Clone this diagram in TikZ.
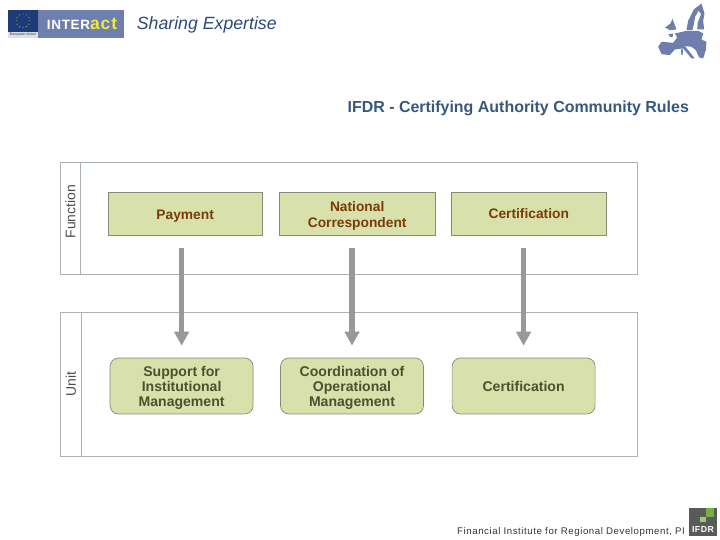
\documentclass[tikz,border=0pt]{standalone}
\usepackage{fontspec}
\setmainfont{Liberation Sans}
\newfontfamily\footfont[LetterSpace=6]{Liberation Sans}
\newfontfamily\logofont[LetterSpace=5]{Liberation Sans}
\usepackage{tikz}
\usetikzlibrary{arrows.meta,positioning,calc}
\definecolor{ifdrframe}{HTML}{ABB2B6}
\definecolor{ifdrfill}{HTML}{D8E1AB}
\definecolor{ifdredge}{HTML}{858B78}
\definecolor{ifdrbrown}{HTML}{7A3B06}
\definecolor{ifdrolive}{HTML}{49512F}
\definecolor{ifdrtitle}{HTML}{36587E}
\definecolor{ifdrarrow}{HTML}{999999}
\definecolor{logoblue}{HTML}{6E7FAE}
\definecolor{logonavy}{HTML}{1D3B78}
\definecolor{logoink}{HTML}{2A4A78}
\definecolor{logoyellow}{HTML}{F2E83C}
\definecolor{logogray}{HTML}{5A5A58}
\definecolor{logogreen}{HTML}{76B043}
\newcommand{\lift}{\rule{0pt}{10pt}}

\begin{document}
\begin{tikzpicture}[
  every node/.style={font=\small},
  func/.style={draw=ifdredge, fill=ifdrfill, line width=0.5pt, inner sep=0pt,
               minimum height=1.075cm, align=center, text=ifdrbrown,
               font=\fontsize{9.8}{11.2}\selectfont\bfseries},
  unit/.style={draw=ifdredge, fill=ifdrfill, rounded corners=6pt, line width=0.5pt,
               inner sep=0pt, minimum width=3.575cm, minimum height=1.4cm,
               align=center, text=ifdrolive,
               font=\fontsize{10}{10.7}\selectfont\bfseries},
  lane/.style={draw=ifdrframe, line width=0.6pt},
  lanelabel/.style={rotate=90, text=black!70, font=\fontsize{9.9}{11}\selectfont},
  flow/.style={draw=ifdrarrow, line width=3.6pt, shorten <=0.3cm, shorten >=0.3cm,
               -{Triangle[length=0.35cm,width=0.36cm]}}
]
\useasboundingbox (0,0) rectangle (18,13.5);

%% Logo strip
\fill[logoblue] (0.95,12.55) rectangle (3.1,13.25);
\fill[logonavy] (0.2,12.7) rectangle (0.95,13.25);
\fill[black!12] (0.2,12.55) rectangle (0.95,12.7);
\foreach \a in {0,30,...,330}
  \fill[logoyellow] ($(0.575,12.98)+(\a:0.17)$) circle (0.012);
\node[font=\fontsize{2.6}{3}\selectfont, text=logonavy] (union) at (0.575,12.625) {European Union};
\node[font=\fontsize{9.6}{10}\logofont\bfseries, text=white] (inter) at (2.05,12.9)
  {INTER\textcolor{logoyellow}{\fontsize{12.4}{10}\selectfont act}};
\node[font=\fontsize{12.6}{14}\selectfont\itshape, text=logoink] (share) at (5.17,12.88) {Sharing Expertise};

%% Europe map
\begin{scope}[x=0.00833cm,y=-0.00833cm,shift={(1860,-1620)}]
  \fill[logoblue] (115,140) -- (125,125) -- (160,128) -- (172,112) -- (165,100) -- (200,92)
    -- (235,92) -- (250,100) -- (245,118) -- (260,125) -- (258,150) -- (250,175) -- (238,172)
    -- (228,150) -- (215,140) -- (195,138) -- (205,150) -- (225,175) -- (215,175) -- (190,145)
    -- (165,148) -- (150,165) -- (125,162) -- cycle;
  \fill[logoblue] (200,90) -- (205,62) -- (222,28) -- (245,10) -- (254,40) -- (250,62) -- (253,88)
    -- (232,88) -- (234,66) -- (244,42) -- (236,32) -- (226,50) -- (222,72) -- (218,90) -- cycle;
  \fill[logoblue] (136,82) -- (152,70) -- (158,56) -- (170,88) -- (150,90) -- cycle;
  \fill[logoblue] (146,102) -- (160,100) -- (158,112) -- (150,110) -- cycle;
  \fill[logoblue] (184,148) -- (190,148) -- (188,166) -- (184,162) -- cycle;
\end{scope}

%% Title
\node[font=\fontsize{11.35}{13}\selectfont\bfseries, text=ifdrtitle, anchor=east, inner sep=0pt] (title)
  at (17.23,10.78) {IFDR - Certifying Authority Community Rules};

%% Lanes
\draw[lane] (1.5,6.65) rectangle (15.93,9.45);
\draw[lane] (2.01,6.65) -- (2.01,9.45);
\draw[lane] (1.5,2.1) rectangle (15.93,5.7);
\draw[lane] (2.03,2.1) -- (2.03,5.7);
\node[lanelabel] (function) at (1.76,8.21) {Function};
\node[lanelabel] (unitlabel) at (1.77,3.9) {Unit};

%% Functions
\node[func, minimum width=3.85cm] (payment)  at (4.63,8.15)  {\lift Payment};
\node[func, minimum width=3.9cm]  (national) at (8.93,8.15)  {\lift National\\Correspondent};
\node[func, minimum width=3.875cm] (certf)   at (13.22,8.15) {Certification};

%% Units
\node[unit] (support) at (4.54,3.85)  {\lift Support for\\Institutional\\Management};
\node[unit] (coord)   at (8.8,3.85)   {\lift Coordination of\\Operational\\Management};
\node[unit] (certu)   at (13.09,3.85) {Certification};

%% Arrows
\draw[flow] (support.north |- payment.south) -- (support.north);
\draw[flow] (coord.north |- national.south) -- (coord.north);
\draw[flow] (certu.north |- certf.south) -- (certu.north);

%% Footer
\node[font=\fontsize{6.85}{8}\footfont, text=black!80, anchor=east, inner sep=0pt] (footer) at (17.13,0.2)
  {Financial Institute for Regional Development, PI};
\fill[logogray] (17.22,0.1) rectangle (17.93,0.8);
\fill[logogreen!70] (17.5,0.45) rectangle (17.65,0.575);
\fill[logogreen] (17.65,0.575) rectangle (17.85,0.8);
\node[font=\fontsize{6.2}{7}\footfont\bfseries, text=white, inner sep=0pt] (ifdr) at (17.575,0.25) {IFDR};
\end{tikzpicture}
\end{document}
